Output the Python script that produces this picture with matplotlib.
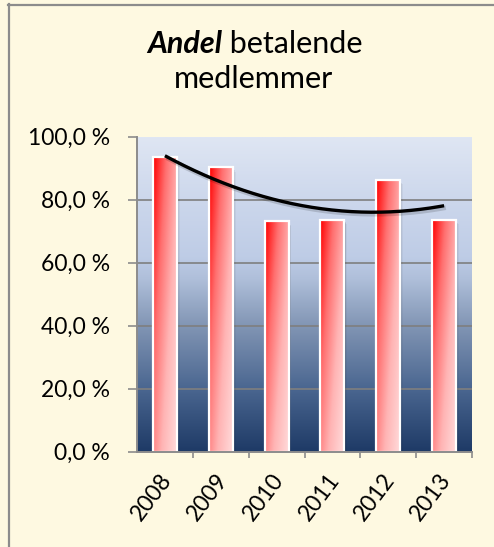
import numpy as np
import matplotlib
matplotlib.use("Agg")
import matplotlib.pyplot as plt
from matplotlib.colors import LinearSegmentedColormap
from matplotlib.patches import Rectangle
import matplotlib.transforms as mtransforms

# ---- data ----
years = ["2008", "2009", "2010", "2011", "2012", "2013"]
values = [93.5, 90.3, 73.1, 73.6, 86.3, 73.6]
yticks = [0, 20, 40, 60, 80, 100]
ytick_labels = ["0,0 %", "20,0 %", "40,0 %", "60,0 %", "80,0 %", "100,0 %"]
title_bold = "Andel"
title_rest = " betalende"
title_line2 = "medlemmer"

FONT = "Lato"
W, H = 494, 547
fig = plt.figure(figsize=(W / 100, H / 100), dpi=100)
fig.patch.set_facecolor("#FEF9E1")

# frame lines (left and top)
fig.add_artist(plt.Line2D([8.5 / W, 8.5 / W], [0, 1 - 4 / H], transform=fig.transFigure,
                          color="#8C8C8C", lw=1.6))
fig.add_artist(plt.Line2D([8 / W, 1], [1 - 4.5 / H, 1 - 4.5 / H], transform=fig.transFigure,
                          color="#8C8C8C", lw=1.6))

left, right, top, bottom = 137, 472, 136.7, 451.7
ax = fig.add_axes([left / W, 1 - bottom / H, (right - left) / W, (bottom - top) / H])
n = len(years)
x = np.arange(n)
ax.set_xlim(-0.5, n - 0.5)
ax.set_ylim(0, 100)

# background gradient of plot area
bg_cmap = LinearSegmentedColormap.from_list("bg", [
    (0.0, "#1E3A66"), (0.2, "#4A6690"), (0.4, "#8195B4"),
    (0.55, "#AFBFDA"), (0.62, "#BECCE6"), (0.8, "#CCD7EC"), (1.0, "#DFE6F3")])
grad = np.linspace(0, 1, 256).reshape(-1, 1)
ax.imshow(grad, aspect="auto", cmap=bg_cmap, origin="lower",
          extent=[-0.5, n - 0.5, 0, 100], zorder=0)

# gridlines
for yv in yticks[1:-1]:
    ax.axhline(yv, color="#7F7F7F", lw=1.2, zorder=1)

# bars with diagonal red gradient
bw = 0.43
bar_cmap = LinearSegmentedColormap.from_list("bar", ["#FF0000", "#FF6F6F", "#FFB4B4", "#FFD6D6"])
uu, vv = np.meshgrid(np.linspace(0, 1, 64), np.linspace(0, 1, 128))
tt = np.clip(0.62 * uu + 0.45 * vv, 0, 1)
for xi, v in zip(x, values):
    # soft shadow
    for k, a in enumerate([0.10, 0.07, 0.04]):
        sh = Rectangle((xi - bw / 2 + 0.02 + 0.015 * k, 0), bw, v - 0.6 - 0.4 * k,
                       facecolor="#000000", alpha=a, edgecolor="none", zorder=2)
        ax.add_patch(sh)
    rect = Rectangle((xi - bw / 2, 0), bw, v, facecolor="none", edgecolor="white",
                     lw=1.6, zorder=4)
    ax.add_patch(rect)
    im = ax.imshow(tt, cmap=bar_cmap, vmin=0, vmax=1, aspect="auto", origin="upper",
                   extent=[xi - bw / 2, xi + bw / 2, 0, v], zorder=3)
    im.set_clip_path(rect)

# polynomial (order 2) trendline
coef = np.polyfit(x, values, 2)
xs = np.linspace(0, n - 1, 200)
ax.plot(xs + 0.03, np.polyval(coef, xs) - 0.6, color="#000000", alpha=0.15, lw=3.5, zorder=5,
        solid_capstyle="butt")
ax.plot(xs, np.polyval(coef, xs), color="#000000", lw=2.4, zorder=6, solid_capstyle="butt")

ax.set_xlim(-0.5, n - 0.5)
ax.set_ylim(0, 100)

# axes styling
for s in ["top", "right"]:
    ax.spines[s].set_visible(False)
for s in ["left", "bottom"]:
    ax.spines[s].set_color("#8C8C8C")
    ax.spines[s].set_linewidth(1.4)
    ax.spines[s].set_zorder(7)

TICKFS = 16.5
ax.set_yticks(yticks)
ax.set_yticklabels(ytick_labels, fontname=FONT, fontsize=TICKFS, color="#000000")
ax.tick_params(axis="y", length=6.5, width=1.2, color="#8C8C8C", pad=13)

ax.set_xticks(x)
ax.set_xticks(np.arange(n) + 0.5, minor=True)
ax.tick_params(axis="x", which="major", length=0, pad=13)
ax.tick_params(axis="x", which="minor", length=4.5, width=1.2, color="#8C8C8C")
ax.set_xticklabels(years, fontname=FONT, fontsize=TICKFS, rotation=53, ha="right", va="top",
                   rotation_mode="default")
offset = mtransforms.ScaledTranslation(11 / 100, 0, fig.dpi_scale_trans)
for lab in ax.get_xticklabels():
    lab.set_transform(lab.get_transform() + offset)

# title
TFS = 22
t1 = fig.text(147 / W, 1 - 44 / H, title_bold, fontname=FONT, fontsize=TFS, fontweight="bold",
              fontstyle="italic", ha="left", va="center")
fig.canvas.draw()
bb = t1.get_window_extent()
fig.text(bb.x1 / W, 1 - 44 / H, title_rest, fontname=FONT, fontsize=TFS, ha="left", va="center")
fig.text(253 / W, 1 - 79 / H, title_line2, fontname=FONT, fontsize=TFS, ha="center", va="center")

fig.savefig("out.png", dpi=100, facecolor=fig.get_facecolor())
